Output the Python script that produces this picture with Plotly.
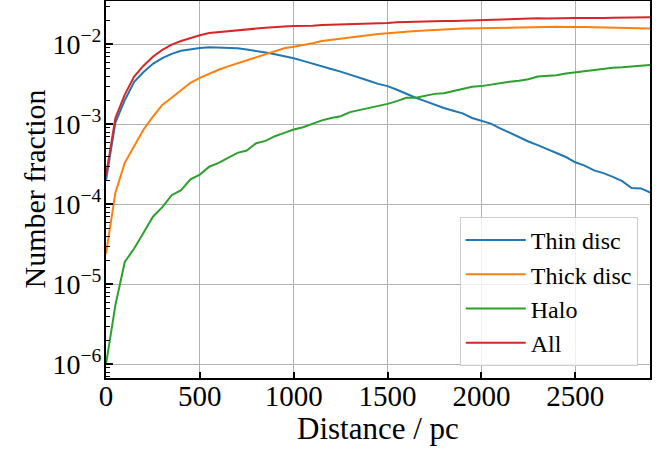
import plotly.graph_objects as go

distance = list(range(0, 2901, 50))

thin_disc = [2.0e-4, 1.05e-3, 2.0e-3, 3.4e-3, 4.5e-3, 5.7e-3, 6.7e-3, 7.6e-3, 8.3e-3, 8.7e-3,
             9.0e-3, 9.2e-3, 9.1e-3, 9.0e-3, 8.9e-3, 8.6e-3, 8.3e-3, 7.9e-3, 7.5e-3, 7.1e-3,
             6.7e-3, 6.2e-3, 5.7e-3, 5.3e-3, 4.9e-3, 4.55e-3, 4.2e-3, 3.8e-3, 3.5e-3, 3.2e-3,
             3.0e-3, 2.7e-3, 2.4e-3, 2.15e-3, 1.95e-3, 1.75e-3, 1.6e-3, 1.48e-3, 1.37e-3, 1.2e-3,
             1.1e-3, 1.02e-3, 8.9e-4, 7.8e-4, 7.0e-4, 6.1e-4, 5.5e-4, 4.9e-4, 4.4e-4, 3.9e-4,
             3.35e-4, 3.05e-4, 2.65e-4, 2.45e-4, 2.2e-4, 1.95e-4, 1.6e-4, 1.58e-4, 1.4e-4]

thick_disc = [2.4e-5, 1.4e-4, 3.3e-4, 5.3e-4, 8.6e-4, 1.25e-3, 1.75e-3, 2.15e-3, 2.7e-3, 3.3e-3,
              3.8e-3, 4.3e-3, 4.8e-3, 5.3e-3, 5.8e-3, 6.3e-3, 6.8e-3, 7.6e-3, 8.3e-3, 8.9e-3,
              9.3e-3, 9.7e-3, 1.03e-2, 1.1e-2, 1.14e-2, 1.18e-2, 1.22e-2, 1.27e-2, 1.31e-2, 1.34e-2,
              1.37e-2, 1.41e-2, 1.44e-2, 1.47e-2, 1.49e-2, 1.52e-2, 1.54e-2, 1.55e-2, 1.57e-2, 1.58e-2,
              1.58e-2, 1.6e-2, 1.62e-2, 1.63e-2, 1.64e-2, 1.66e-2, 1.66e-2, 1.65e-2, 1.66e-2, 1.65e-2,
              1.66e-2, 1.64e-2, 1.63e-2, 1.62e-2, 1.62e-2, 1.62e-2, 1.58e-2, 1.59e-2, 1.58e-2]

halo = [1.0e-6, 5.5e-6, 1.9e-5, 2.8e-5, 4.4e-5, 7.0e-5, 9.2e-5, 1.3e-4, 1.5e-4, 2.05e-4,
        2.35e-4, 2.95e-4, 3.3e-4, 3.8e-4, 4.4e-4, 4.7e-4, 5.8e-4, 6.2e-4, 7.1e-4, 7.8e-4,
        8.6e-4, 9.2e-4, 1.02e-3, 1.12e-3, 1.2e-3, 1.26e-3, 1.42e-3, 1.5e-3, 1.6e-3, 1.7e-3,
        1.8e-3, 1.95e-3, 2.15e-3, 2.15e-3, 2.25e-3, 2.4e-3, 2.45e-3, 2.6e-3, 2.8e-3, 2.95e-3,
        3.0e-3, 3.15e-3, 3.3e-3, 3.4e-3, 3.5e-3, 3.65e-3, 3.95e-3, 4.0e-3, 4.1e-3, 4.3e-3,
        4.45e-3, 4.6e-3, 4.7e-3, 4.85e-3, 5.1e-3, 5.15e-3, 5.25e-3, 5.4e-3, 5.5e-3]

all_stars = [2.3e-4, 1.2e-3, 2.35e-3, 3.95e-3, 5.4e-3, 7.0e-3, 8.5e-3, 9.9e-3, 1.1e-2, 1.2e-2,
             1.3e-2, 1.38e-2, 1.42e-2, 1.47e-2, 1.51e-2, 1.54e-2, 1.57e-2, 1.61e-2, 1.65e-2, 1.67e-2,
             1.69e-2, 1.69e-2, 1.70e-2, 1.74e-2, 1.75e-2, 1.76e-2, 1.78e-2, 1.80e-2, 1.81e-2, 1.82e-2,
             1.85e-2, 1.88e-2, 1.9e-2, 1.9e-2, 1.92e-2, 1.94e-2, 1.95e-2, 1.96e-2, 1.98e-2, 1.99e-2,
             1.99e-2, 2.02e-2, 2.04e-2, 2.05e-2, 2.06e-2, 2.08e-2, 2.11e-2, 2.10e-2, 2.12e-2, 2.12e-2,
             2.13e-2, 2.13e-2, 2.12e-2, 2.13e-2, 2.15e-2, 2.15e-2, 2.14e-2, 2.15e-2, 2.17e-2]

series = [("Thin disc", thin_disc, "#1f77b4"),
          ("Thick disc", thick_disc, "#ff7f0e"),
          ("Halo", halo, "#2ca02c"),
          ("All", all_stars, "#d62728")]

y_tickvals = [1e-6, 1e-5, 1e-4, 1e-3, 1e-2]
y_ticktext = ["10<sup>−6</sup>", "10<sup>−5</sup>", "10<sup>−4</sup>", "10<sup>−3</sup>", "10<sup>−2</sup>"]
y_minor_vals = [m * 10.0 ** e for e in range(-7, -1) for m in range(2, 10)]
x_tickvals = [0, 500, 1000, 1500, 2000, 2500]

FONT = "Liberation Serif"

fig = go.Figure()
for i, (name, vals, col) in enumerate(series):
    fig.add_trace(go.Scatter(x=distance, y=vals, mode="lines", name=name,
                             legendgroup=f"g{i}",
                             line=dict(color=col, width=2)))

fig.update_layout(
    width=670, height=449,
    margin=dict(l=106, r=20, t=1, b=71, autoexpand=False),
    paper_bgcolor="white", plot_bgcolor="white",
    font=dict(family=FONT, color="black", size=24),
    legend=dict(x=0.9775, y=0.032, xanchor="right", yanchor="bottom",
                bgcolor="rgba(255,255,255,0.8)", bordercolor="#cccccc", borderwidth=1,
                font=dict(size=24, family=FONT), tracegroupgap=0,
                itemwidth=60),
    showlegend=True,
    annotations=[
        dict(text="Distance / pc", xref="paper", yref="paper", x=0.5, y=0,
             xanchor="center", yanchor="middle", yshift=-50, showarrow=False,
             font=dict(size=31, family=FONT)),
        dict(text="Number fraction", xref="paper", yref="paper", x=0, y=0.5,
             xanchor="center", yanchor="middle", xshift=-72, showarrow=False,
             textangle=-90, font=dict(size=30, family=FONT)),
    ],
)
fig.update_xaxes(
    range=[0, 2898], tickvals=x_tickvals, ticks="inside", ticklen=6, tickwidth=1.5,
    tickcolor="black", showline=True, linecolor="black", linewidth=2, mirror=True,
    showgrid=True, gridcolor="#b0b0b0", gridwidth=1, zeroline=False, automargin=False,
    tickfont=dict(size=29, family=FONT), ticklabelstandoff=-9,
)
fig.update_yaxes(
    type="log", range=[-6.171, -1.459], tickvals=y_tickvals, ticktext=y_ticktext,
    ticks="inside", ticklen=7, tickwidth=1.5, tickcolor="black",
    minor=dict(tickmode="array", tickvals=y_minor_vals, ticks="inside", ticklen=4,
               tickcolor="black", tickwidth=1, showgrid=False),
    showline=True, linecolor="black", linewidth=2, mirror=True,
    showgrid=True, gridcolor="#b0b0b0", gridwidth=1, zeroline=False, automargin=False,
    tickfont=dict(size=28, family=FONT), ticklabelstandoff=-3,
)

fig.write_html("out.html", config={"displayModeBar": False},
               post_script="document.body.style.margin='0px';")
